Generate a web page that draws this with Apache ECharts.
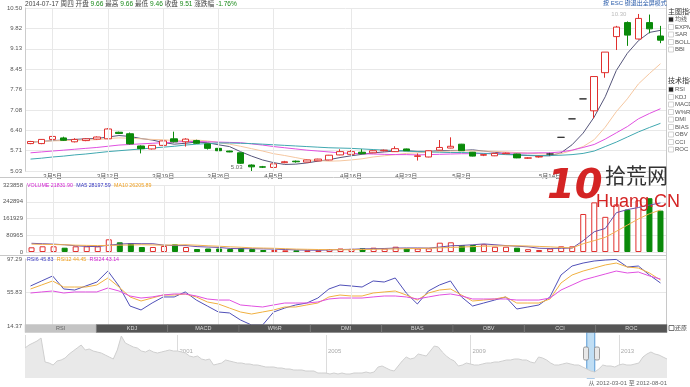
<!DOCTYPE html>
<html><head><meta charset="utf-8">
<script src="https://cdn.jsdelivr.net/npm/echarts@6/dist/echarts.min.js"></script>
<style>html,body{margin:0;padding:0;background:#fff}#c{width:690px;height:387px}</style>
</head><body><div id="c"></div>
<script>
// ---------------- data ----------------
const dates = ['2012-03-01','2012-03-02','2012-03-05','2012-03-06','2012-03-07','2012-03-08','2012-03-09','2012-03-12','2012-03-13','2012-03-14','2012-03-15','2012-03-16','2012-03-19','2012-03-20','2012-03-21','2012-03-22','2012-03-23','2012-03-26','2012-03-27','2012-03-28','2012-03-29','2012-03-30','2012-04-05','2012-04-06','2012-04-09','2012-04-10','2012-04-11','2012-04-12','2012-04-13','2012-04-16','2012-04-17','2012-04-18','2012-04-19','2012-04-20','2012-04-23','2012-04-24','2012-04-25','2012-04-26','2012-04-27','2012-05-02','2012-05-03','2012-05-04','2012-05-07','2012-05-08','2012-05-09','2012-05-10','2012-05-11','2012-05-14','2012-05-15','2012-05-16','2012-05-17','2012-05-18','2012-05-21','2012-05-22','2012-05-23','2012-05-24','2012-05-25','2012-05-28'];
const opens  = [5.95,5.95,6.09,6.14,6.01,6.05,6.10,6.11,6.33,6.28,5.87,5.77,5.89,6.11,6.01,6.05,5.94,5.79,5.70,5.64,5.23,5.17,5.15,5.31,5.36,5.33,5.37,5.40,5.57,5.59,5.66,5.64,5.71,5.68,5.77,5.52,5.50,5.73,5.80,5.93,5.66,5.56,5.54,5.61,5.60,5.46,5.50,5.60,6.16,6.78,7.45,7.05,8.33,9.54,10.01,9.46,10.01,9.56];
const closes = [6.02,6.09,6.19,6.06,6.09,6.11,6.17,6.44,6.29,5.94,5.78,5.89,6.04,6.01,6.10,5.96,5.79,5.71,5.67,5.29,5.17,5.16,5.27,5.34,5.34,5.40,5.43,5.56,5.68,5.68,5.61,5.71,5.73,5.78,5.71,5.54,5.71,5.82,5.86,5.71,5.53,5.58,5.62,5.63,5.47,5.47,5.52,5.60,6.16,6.78,7.45,8.20,9.02,9.86,9.59,10.15,9.80,9.42];
const lows   = [5.93,5.93,6.07,6.04,5.99,6.03,6.08,6.10,6.27,5.92,5.62,5.75,5.87,5.99,5.85,5.94,5.75,5.69,5.66,5.27,5.03,5.13,5.14,5.29,5.31,5.32,5.36,5.39,5.56,5.58,5.60,5.63,5.69,5.67,5.70,5.38,5.49,5.72,5.79,5.70,5.52,5.53,5.53,5.60,5.46,5.44,5.48,5.55,6.16,6.78,7.45,6.80,8.16,9.09,9.23,9.44,9.65,9.32];
const highs  = [6.04,6.10,6.27,6.18,6.13,6.13,6.19,6.47,6.35,6.32,5.89,5.90,6.05,6.35,6.13,6.08,5.95,5.80,5.71,5.65,5.25,5.20,5.28,5.37,5.38,5.41,5.44,5.57,5.76,5.73,5.76,5.72,5.75,5.86,5.78,5.62,5.72,6.07,6.16,5.94,5.67,5.60,5.63,5.65,5.61,5.49,5.54,5.64,6.16,6.78,7.45,8.20,9.02,9.90,10.05,10.30,10.28,9.90];
const ma5  = [6.00,6.02,6.05,6.07,6.09,6.11,6.12,6.17,6.22,6.19,6.12,6.07,5.99,5.93,5.96,6.00,5.98,5.91,5.85,5.68,5.53,5.40,5.31,5.25,5.26,5.30,5.36,5.41,5.48,5.54,5.59,5.64,5.67,5.70,5.71,5.69,5.69,5.71,5.72,5.72,5.74,5.70,5.66,5.61,5.57,5.55,5.54,5.54,5.64,5.91,6.30,6.84,7.52,8.40,8.98,9.40,9.68,9.75];
const ma10 = [6.00,6.02,6.04,6.05,6.06,6.07,6.08,6.12,6.14,6.13,6.11,6.09,6.08,6.05,6.06,6.07,6.04,5.99,5.93,5.86,5.78,5.70,5.61,5.55,5.48,5.41,5.38,5.36,5.37,5.40,5.44,5.50,5.54,5.58,5.62,5.64,5.67,5.68,5.70,5.71,5.70,5.70,5.69,5.67,5.65,5.63,5.61,5.59,5.61,5.72,5.85,6.08,6.50,7.02,7.45,7.95,8.30,8.63];
const ma20 = [5.64,5.67,5.70,5.73,5.76,5.79,5.82,5.86,5.90,5.92,5.94,5.96,5.98,6.00,6.02,6.02,6.01,6.00,5.99,5.98,5.94,5.90,5.85,5.81,5.77,5.73,5.70,5.67,5.64,5.62,5.61,5.60,5.59,5.58,5.58,5.57,5.58,5.59,5.60,5.61,5.61,5.62,5.62,5.63,5.63,5.63,5.64,5.64,5.67,5.73,5.82,5.92,6.10,6.31,6.52,6.78,6.96,7.12];
const ma30 = [5.43,5.46,5.50,5.53,5.57,5.60,5.64,5.68,5.71,5.74,5.77,5.80,5.83,5.86,5.90,5.93,5.95,5.97,5.97,5.96,5.95,5.93,5.91,5.89,5.87,5.85,5.83,5.81,5.80,5.79,5.77,5.75,5.73,5.72,5.70,5.68,5.67,5.66,5.65,5.65,5.64,5.62,5.60,5.58,5.57,5.56,5.55,5.55,5.56,5.58,5.62,5.70,5.85,6.00,6.17,6.34,6.49,6.63];
const volumes = [22700,27500,27500,20800,27500,27500,27500,61400,46900,42000,24200,24200,29000,37200,24200,14500,16900,16900,14500,19300,14500,9700,9700,8100,8100,8100,8100,14500,16900,15000,17900,20800,16900,25600,16900,16900,17900,45000,46900,33800,33800,37200,25600,25600,20800,13500,9700,16900,27500,27500,183700,240000,170000,230000,205000,250000,260000,200000];
const volMa5  = [42000,40000,38000,35000,30000,27000,26000,33000,38000,41000,40000,40000,33000,31000,31000,26000,24000,22000,17000,16000,16000,15000,14000,12000,10000,9000,8500,10000,12000,13000,15000,16000,17000,19000,19500,19500,19000,24000,30000,32000,35000,39000,35000,31000,28000,25000,18000,17000,18000,19000,55000,98000,114000,190000,205000,215000,227000,237000];
const volMa10 = [38000,37000,36000,35000,33000,32000,31000,32000,33000,34000,35000,34000,33000,34000,35000,33000,30000,28000,25000,23000,20000,19000,18000,16000,14000,13000,12000,11500,11000,11000,12000,13000,14000,15000,16000,17000,18000,20000,22000,24000,26000,28000,29000,30000,30000,29000,27000,25000,22000,20000,40000,55000,71000,100000,130000,160000,185000,203000];
const rsi6  = [63.9,70.1,76.3,60.2,58.9,63.9,68.8,82.4,63.9,39.1,34.2,42.8,50.3,50.3,56.5,46.5,39.1,31.7,30.5,21.8,15.6,15.6,31.7,36.6,40.4,42.8,49.0,60.2,65.1,63.9,62.6,70.1,68.8,73.8,55.2,41.6,57.7,65.1,70.1,50.3,39.1,42.8,46.5,50.3,35.4,37.9,40.4,50.3,77.5,88.6,92.3,94.8,96.0,96.8,87.4,88.6,77.5,67.6];
const rsi12 = [60.2,65.1,70.1,62.6,62.6,62.6,65.1,73.8,62.6,50.3,45.3,49.0,52.7,52.7,54.0,50.3,44.1,41.6,36.6,31.7,29.2,31.7,34.2,37.9,37.9,40.4,42.8,50.3,52.7,51.5,51.5,55.2,56.5,57.7,52.7,46.5,55.2,58.9,60.2,52.7,45.3,46.5,47.8,50.3,42.8,42.8,42.8,47.8,67.6,77.5,82.4,86.1,89.9,92.3,87.4,86.1,80.0,71.3];
const rsi24 = [55.2,56.5,57.7,55.2,56.5,56.5,56.5,61.4,57.7,51.5,49.0,50.3,52.7,54.0,54.0,51.5,47.8,46.5,46.5,40.4,39.1,37.9,40.4,42.8,42.8,42.8,44.1,47.8,49.0,49.0,49.0,50.3,51.5,51.5,50.3,47.8,50.3,52.7,54.0,51.5,47.8,47.8,47.8,47.8,46.5,46.5,46.5,49.0,58.9,65.1,71.3,75.0,78.7,82.4,80.0,81.2,76.3,72.5];
const labelDates = ['2012-03-05','2012-03-12','2012-03-19','2012-03-26','2012-04-05','2012-04-16','2012-04-23','2012-05-02','2012-05-14'];
const gridDates  = ['2012-03-05','2012-03-12','2012-03-19','2012-03-26','2012-04-05','2012-04-16'];
const priceTicks = ['5.03','5.71','6.40','7.08','7.76','8.45','9.13','9.82','10.50'];
const priceMin = 5.03, priceMax = 10.50;
const volTicks = ['0','80965','161929','242894','323858'];
const volMax = 323858;
const rsiTicks = ['14.37','55.83','97.29'];
const rsiMin = 14.37, rsiMax = 97.29;
// long history for the navigator (1996 .. 2014)
const navValues = [30,33,35,37,40,16,15,13,17,18,20,24,27,30,33,28,29,27,26,25,23,21,19,28,42,35,33,31,30,27,26,28,26,25,26,27,28,27,27,26,25,22,21,22,19,18,19,13,14,15,18,17,16,15,15,14,14,13,13,12,11,11,11,10,10,9,9,8,8,8,7,7,7,5,5,5,4,5,4,5,4,4,5,5,5,6,5,6,11,12,10,8,7,12,17,21,19,20,24,23,22,27,32,31,26,22,19,17,12,13,15,14,13,13,14,15,15,16,16,17,18,18,19,19,18,18,16,15,21,20,18,15,13,13,14,15,14,13,13,11,9,7,6,9,13,12,12,11,13,14,13,13,14,15,21,24,26,24,23,21,19];
const navTickIdx = [0,38,75,111,148];
const navTickLabels = ['1996','2001','2005','2009','2013'];
const navWindow = [140,142];
const headerParts = [['2014-07-17 周四 开盘 ','9.66'],[' 最高 ','9.66'],[' 最低 ','9.46'],[' 收盘 ','9.51'],[' 涨跌幅 ','-1.76%']];
const volLegend = [['VOLUME','21831.90'],['MA5','28197.59'],['MA10','26205.89']];
const rsiLegend = [['RSI6','45.83'],['RSI12','44.45'],['RSI24','43.14']];
const tabNames = ['RSI','KDJ','MACD','W%R','DMI','BIAS','OBV','CCI','ROC'];
const mainInd = ['均线','EXPMA','SAR','BOLL','BBI'];
const techInd = ['RSI','KDJ','MACD','W%R','DMI','BIAS','OBV','CCI','ROC'];
const rangeText = '从 2012-03-01 至 2012-08-01';

// ---------------- chart ----------------
const FONT = '"Liberation Sans","Noto Sans CJK SC",sans-serif';
const UP = '#e0302e', DOWN = '#0a8a0a', GRID = '#e8e8e8';
const chart = echarts.init(document.getElementById('c'));
const candleData = dates.map((d, i) => {
  const it = { value: [opens[i], closes[i], lows[i], highs[i]] };
  if (opens[i] === closes[i]) it.itemStyle = { color: '#333', color0: '#333', borderColor: '#333', borderColor0: '#333' };
  return it;
});
const volData = volumes.map((v, i) => ({
  value: v,
  itemStyle: closes[i] >= opens[i] ? { color: '#fff', borderColor: UP, borderWidth: 1 } : { color: DOWN, borderColor: DOWN, borderWidth: 1 }
}));
const vLines = () => ({ silent: true, symbol: ['none', 'none'], label: { show: false },
  lineStyle: { color: GRID, width: 1, type: 'solid' }, data: gridDates.map(d => ({ xAxis: d })) });
const catAxis = (gi, show) => ({
  type: 'category', gridIndex: gi, data: dates, boundaryGap: true,
  axisLine: { show: false }, axisTick: { show: false }, splitLine: { show: false },
  axisLabel: show ? { show: true, fontSize: 6, color: '#555', margin: 2, fontFamily: FONT,
    interval: (i) => labelDates.indexOf(dates[i]) >= 0,
    formatter: (v) => { const p = v.split('-'); return (+p[1]) + '月' + (+p[2]) + '日'; } } : { show: false }
});
const labelAxis = (gi, n, ticks) => ({
  type: 'value', gridIndex: gi, min: 0, max: n, interval: 1, position: 'left',
  axisLine: { show: true, lineStyle: { color: '#ccc' } }, axisTick: { show: false },
  splitLine: { show: true, lineStyle: { color: GRID, width: 1 } },
  axisLabel: { fontSize: 6, color: '#555', margin: 3, fontFamily: FONT, formatter: (v) => ticks[v] }
});
const dataAxis = (gi, mn, mx) => ({ type: 'value', gridIndex: gi, min: mn, max: mx, show: false, position: 'left', splitLine: { show: false } });
const line = (name, data, xi, yi, color) => ({ name, type: 'line', data, xAxisIndex: xi, yAxisIndex: yi,
  symbol: 'none', lineStyle: { color, width: 1 }, silent: true, z: 3 });

const graphics = [];
// header
graphics.push({ type: 'text', left: 25, top: 1, z: 10, style: {
  text: headerParts.map(p => '{a|' + p[0] + '}{b|' + p[1] + '}').join(''),
  rich: { a: { fill: '#444', fontSize: 6.6, fontFamily: FONT }, b: { fill: '#1a8a1a', fontSize: 6.6, fontFamily: FONT } } } });
graphics.push({ type: 'text', left: 603, top: 0, z: 10, style: { text: '按 ESC 键退出全屏模式', fill: '#2a5caa', fontSize: 6, fontFamily: FONT } });
// legends
const LEG = 5.3;
const legColorsV = ['#d020d0', '#3535c0', '#f0a020'];
graphics.push({ type: 'text', left: 27, top: 179.5, z: 10, style: {
  text: volLegend.map((p, i) => '{c' + i + '|' + p[0] + ' ' + p[1] + '}').join(' '),
  rich: { c0: { fill: legColorsV[0], fontSize: LEG, fontFamily: FONT }, c1: { fill: legColorsV[1], fontSize: LEG, fontFamily: FONT }, c2: { fill: legColorsV[2], fontSize: LEG, fontFamily: FONT } } } });
const legColorsR = ['#4040c0', '#f0a020', '#d020d0'];
graphics.push({ type: 'text', left: 27, top: 253.5, z: 10, style: {
  text: rsiLegend.map((p, i) => '{c' + i + '|' + p[0] + ' ' + p[1] + '}').join(' '),
  rich: { c0: { fill: legColorsR[0], fontSize: LEG, fontFamily: FONT }, c1: { fill: legColorsR[1], fontSize: LEG, fontFamily: FONT }, c2: { fill: legColorsR[2], fontSize: LEG, fontFamily: FONT } } } });
// panel separators
graphics.push({ type: 'line', z: 1, shape: { x1: 0, y1: 177.5, x2: 667, y2: 177.5 }, style: { stroke: '#c8c8c8', lineWidth: 1 } });
graphics.push({ type: 'line', z: 1, shape: { x1: 0, y1: 255.5, x2: 667, y2: 255.5 }, style: { stroke: '#c8c8c8', lineWidth: 1 } });
graphics.push({ type: 'line', z: 1, shape: { x1: 666.5, y1: 0, x2: 666.5, y2: 325 }, style: { stroke: '#c8c8c8', lineWidth: 1 } });
// tabs
const tabW = (667 - 25) / tabNames.length;
tabNames.forEach((t, i) => {
  const x = 25 + i * tabW;
  graphics.push({ type: 'rect', z: 10, shape: { x, y: 324.5, width: tabW, height: 8 }, style: { fill: i === 0 ? '#c4c4c4' : '#555', stroke: i === 0 ? '#c4c4c4' : '#777', lineWidth: 0.5 } });
  graphics.push({ type: 'text', z: 11, x: x + tabW / 2, y: 328.5, style: { text: t, fill: i === 0 ? '#666' : '#ddd', fontSize: 5.5, fontFamily: FONT, align: 'center', verticalAlign: 'middle' } });
});
graphics.push({ type: 'rect', z: 10, shape: { x: 669, y: 325.5, width: 5, height: 5 }, style: { fill: '#fff', stroke: '#555', lineWidth: 0.8 } });
graphics.push({ type: 'text', z: 10, x: 675, y: 328.5, style: { text: '还原', fill: '#444', fontSize: 6, fontFamily: FONT, verticalAlign: 'middle' } });
// right indicator panel
const addList = (title, ty, items, y0) => {
  graphics.push({ type: 'text', z: 10, x: 668, y: ty, style: { text: title, fill: '#333', fontSize: 7, fontFamily: FONT, verticalAlign: 'middle' } });
  items.forEach((t, i) => {
    const y = y0 + i * 7.5;
    graphics.push({ type: 'rect', z: 10, shape: { x: 668.5, y: y - 2.5, width: 5, height: 5 }, style: { fill: i === 0 ? '#222' : '#fff', stroke: i === 0 ? '#ddd' : '#c8c8c8', lineWidth: 0.8 } });
    graphics.push({ type: 'text', z: 10, x: 675, y, style: { text: t, fill: '#555', fontSize: 6, fontFamily: FONT, verticalAlign: 'middle' } });
  });
};
addList('主图指标', 12, mainInd, 19.5);
addList('技术指标', 81, techInd, 89.5);
// range text
graphics.push({ type: 'text', z: 10, x: 667, y: 383, style: { text: rangeText, fill: '#666', fontSize: 6, fontFamily: FONT, align: 'right', verticalAlign: 'middle' } });
// navigator grips
[586, 597].forEach(x => graphics.push({ type: 'rect', z: 12, shape: { x: x - 2.5, y: 347, width: 5, height: 13, r: 1.5 }, style: { fill: '#e8e8e8', stroke: '#888', lineWidth: 0.8 } }));
// watermark
graphics.push({ type: 'text', z: 20, left: 547, top: 168, style: { text: '10', fill: '#d42424', font: 'italic bold 40px "DejaVu Sans"' } });
graphics.push({ type: 'text', z: 20, left: 605, top: 165, style: { text: '拾荒网', fill: '#333', font: '21px "Noto Sans CJK SC"' } });
graphics.push({ type: 'text', z: 20, left: 596, top: 193, style: { text: 'Huang.CN', fill: '#d42424', font: '18px "Liberation Sans"' } });

const option = {
  animation: false,
  textStyle: { fontFamily: FONT },
  grid: [
    { left: 25, right: 24, top: 8, height: 163 },
    { left: 25, right: 24, top: 185, height: 67 },
    { left: 25, right: 24, top: 259, height: 67 },
    { left: 25, right: 23, top: 335, height: 43 }
  ],
  xAxis: [
    catAxis(0, true), catAxis(1, false), catAxis(2, false),
    { type: 'category', gridIndex: 3, data: navValues.map((v, i) => String(i)), boundaryGap: false, position: 'top',
      axisLine: { show: false }, axisTick: { show: false },
      axisLabel: { show: true, inside: true, margin: 13, fontSize: 6, color: '#aaa', align: 'left', padding: [0, 0, 0, 2],
        interval: (i) => navTickIdx.indexOf(i) >= 0, formatter: (v, i) => navTickLabels[navTickIdx.indexOf(+v)] || '' },
      splitLine: { show: true, interval: (i) => navTickIdx.indexOf(i) >= 0, lineStyle: { color: '#dcdcdc' } } }
  ],
  yAxis: [
    dataAxis(0, priceMin, priceMax), labelAxis(0, priceTicks.length - 1, priceTicks),
    dataAxis(1, 0, volMax), labelAxis(1, volTicks.length - 1, volTicks),
    dataAxis(2, rsiMin, rsiMax), labelAxis(2, rsiTicks.length - 1, rsiTicks),
    { type: 'value', gridIndex: 3, min: 0, max: 43, show: false }
  ],
  graphic: graphics,
  series: [
    { name: 'K', type: 'candlestick', xAxisIndex: 0, yAxisIndex: 0, data: candleData, barWidth: 7, z: 4,
      itemStyle: { color: '#fff', color0: DOWN, borderColor: UP, borderColor0: DOWN, borderWidth: 1 },
      markLine: vLines(),
      markPoint: { symbol: 'circle', symbolSize: 0.1, silent: true,
        label: { show: true, fontSize: 6, color: '#666', fontFamily: FONT, formatter: (p) => Number(p.value).toFixed(2) },
        data: [
          { type: 'max', valueDim: 'highest', label: { position: 'left', distance: 12, color: '#bbb' } },
          { type: 'min', valueDim: 'lowest', label: { position: 'left', distance: 9, offset: [0, -4] } }
        ] } },
    line('MA5', ma5, 0, 0, '#55557a'),
    line('MA10', ma10, 0, 0, '#f5c7a0'),
    line('MA20', ma20, 0, 0, '#e050e0'),
    line('MA30', ma30, 0, 0, '#40a8b0'),
    { name: 'VOL', type: 'bar', xAxisIndex: 1, yAxisIndex: 2, data: volData, barWidth: 6, markLine: vLines(), z: 2 },
    line('VMA5', volMa5, 1, 2, '#6a50a8'),
    line('VMA10', volMa10, 1, 2, '#f0b050'),
    Object.assign(line('RSI6', rsi6, 2, 4, '#5050b8'), { markLine: vLines() }),
    line('RSI12', rsi12, 2, 4, '#f0b040'),
    line('RSI24', rsi24, 2, 4, '#e050e0'),
    { name: 'NAV', type: 'line', xAxisIndex: 3, yAxisIndex: 6, data: navValues, symbol: 'none', silent: true,
      lineStyle: { color: '#cfcfcf', width: 1 }, areaStyle: { color: '#e9e9e9', opacity: 1 },
      markArea: { silent: true, itemStyle: { color: 'rgba(140,195,235,0.55)', borderColor: '#5b9bd5', borderWidth: 1 },
        data: [[{ xAxis: String(navWindow[0]), y: 332 }, { xAxis: String(navWindow[1]), y: 378 }]] } }
  ]
};
chart.setOption(option);
</script></body></html>
